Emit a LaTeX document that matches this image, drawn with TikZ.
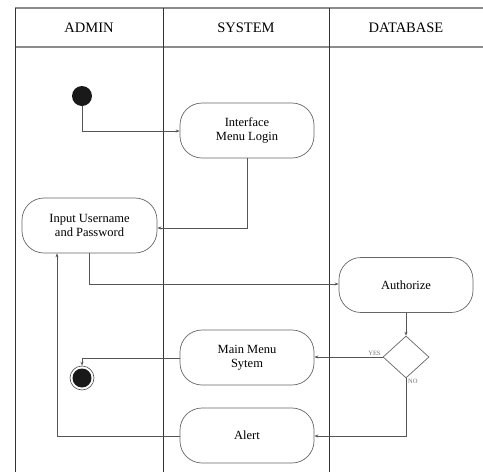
\documentclass[tikz,border=0pt]{standalone}
\usepackage{fontspec}
\setmainfont{Liberation Serif}
\usetikzlibrary{shapes.geometric,arrows.meta}
\definecolor{ln}{HTML}{555555}
\definecolor{bx}{HTML}{666666}
\tikzset{
  lane/.style={draw=black!80, line width=0.8pt},
  hline/.style={draw=black!45, line width=1.4pt},
  act/.style={draw=bx, line width=0.7pt, rounded corners=22pt, minimum width=134pt, minimum height=55pt, align=center, font=\fontsize{12.5}{14}\selectfont, inner sep=0pt},
  flow/.style={draw=ln, line width=0.7pt, -{Stealth[length=4pt,width=3pt]}},
  hdr/.style={font=\fontsize{14.5}{16}\selectfont},
  lbl/.style={font=\fontsize{6.5}{7}\selectfont, text=black!55, inner sep=1pt}
}
\begin{document}
\begin{tikzpicture}[x=1pt,y=-1pt]
\useasboundingbox (0,0) rectangle (483,472);
% swimlanes
\draw[hline] (15,8) -- (483,8);
\draw[hline] (15,47) -- (483,47);
\draw[lane] (15,8) -- (15,472);
\draw[lane] (163,8) -- (163,472);
\draw[lane] (329,8) -- (329,472);
\node[hdr] (hA) at (89,28) {ADMIN};
\node[hdr] (hS) at (246,28) {SYSTEM};
\node[hdr] (hD) at (406,28) {DATABASE};
% nodes
\node[circle, fill=black!90, inner sep=0pt, minimum size=20pt] (start) at (82,96) {};
\node[act] (iml) at (247,130.5) {Interface\\Menu Login};
\node[act, minimum width=135pt] (inp) at (89.5,225.5) {Input Username\\and Password};
\node[act] (auth) at (406,285) {Authorize};
\node[diamond, draw=bx, line width=0.7pt, minimum width=46pt, minimum height=42pt, inner sep=0pt, aspect=1.1] (dec) at (406,357) {};
\node[act] (mms) at (247,357.5) {Main Menu\\Sytem};
\node[act] (alert) at (247,435.5) {Alert};
\node[circle, draw=black!70, line width=0.6pt, inner sep=0pt, minimum size=24pt] (endo) at (82,378) {};
\node[circle, fill=black!90, inner sep=0pt, minimum size=19pt] (endi) at (82,378) {};
\coordinate (c1) at (82,131);
\coordinate (c2) at (247,228);
\coordinate (c3) at (89,284);
\coordinate (c4) at (406,436);
\coordinate (c5) at (82,358);
\coordinate (c6) at (57,436);
% connectors
\draw[flow] (start.south) -- (c1) -- (iml.west |- c1);
\draw[flow] (iml.south -| c2) -- (c2) -- (inp.east |- c2);
\draw[flow] (inp.south -| c3) -- (c3) -- (auth.west |- c3);
\draw[flow] (auth.south) -- (dec.north);
\draw[flow] (dec.west) -- (mms.east |- dec.west) node[lbl, pos=0.12, above] {YES};
\draw[flow] (dec.south) -- (c4) -- (alert.east |- c4);
\node[lbl, anchor=north west] (no) at ([xshift=1pt]dec.south) {NO};
\draw[flow] (mms.west |- c5) -- (c5) -- (endo.north);
\draw[flow] (alert.west |- c6) -- (c6) -- (inp.south -| c6);
\end{tikzpicture}
\end{document}
